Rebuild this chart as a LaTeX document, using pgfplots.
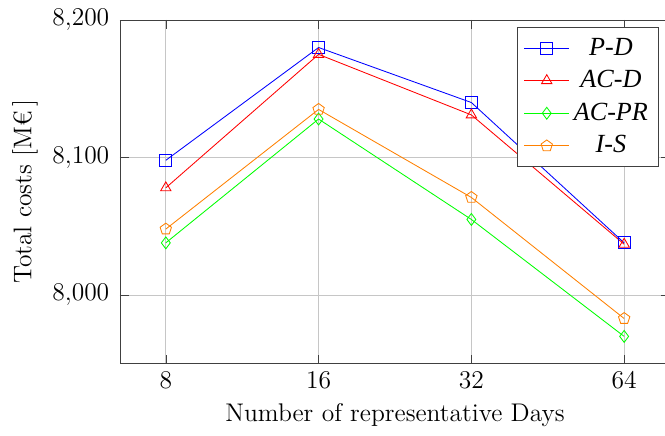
\documentclass[border=0pt]{standalone}
\usepackage{fontspec}
\usepackage{pgfplots}
\pgfplotsset{compat=1.18}
\newfontfamily\legfont{Liberation Serif}

\begin{document}
\begin{tikzpicture}
\begin{axis}[
  scale only axis,
  width=258.6pt, height=161.7pt,
  xmin=-0.3, xmax=3.3,
  ymin=7950, ymax=8200,
  xtick={0,1,2,3},
  xticklabels={8,16,32,64},
  ytick={8000,8100,8200},
  grid=major,
  major grid style={gray!45},
  axis line style={black!75},
  tick style={black!75},
  xlabel={\large Number of representative Days},
  ylabel={\large Total costs [M€\,]},
  ticklabel style={font=\large},
  yticklabel style={xshift=-1.5pt},
  legend style={at={(0.98,0.98)}, anchor=north east,
    font=\fontsize{12.3}{15.3}\selectfont\legfont\itshape,
    cells={anchor=center}, draw=black!75, inner xsep=3pt, inner ysep=3pt,
    row sep=1.7pt},
  legend image code/.code={%
    \draw[mark repeat=2,mark phase=2] plot coordinates {(0cm,0cm) (0.37cm,0cm) (0.74cm,0cm)};},
  every axis plot/.append style={thin, mark size=2.8pt},
]
\addplot[blue, mark=square, mark options={solid, draw=blue, fill=none}]
  coordinates {(0,8098) (1,8180) (2,8140) (3,8038)};
\addlegendentry{P-D}
\addplot[red, mark=triangle, mark options={solid, draw=red, fill=none}]
  coordinates {(0,8078) (1,8175) (2,8131) (3,8037)};
\addlegendentry{AC-D}
\addplot[green, mark=diamond, mark options={solid, draw=green, fill=none}]
  coordinates {(0,8038) (1,8128) (2,8055) (3,7970)};
\addlegendentry{AC-PR}
\addplot[orange, mark=pentagon, mark options={solid, draw=orange, fill=none}]
  coordinates {(0,8048) (1,8135) (2,8071) (3,7983)};
\addlegendentry{I-S}
\end{axis}
% page ends just short of the right spine
\pgfresetboundingbox
\path[use as bounding box]
  ([xshift=-56.4pt,yshift=-33.85pt]current axis.south west)
  rectangle ([xshift=-2.35pt,yshift=9.4pt]current axis.north east);
\end{tikzpicture}
\end{document}
